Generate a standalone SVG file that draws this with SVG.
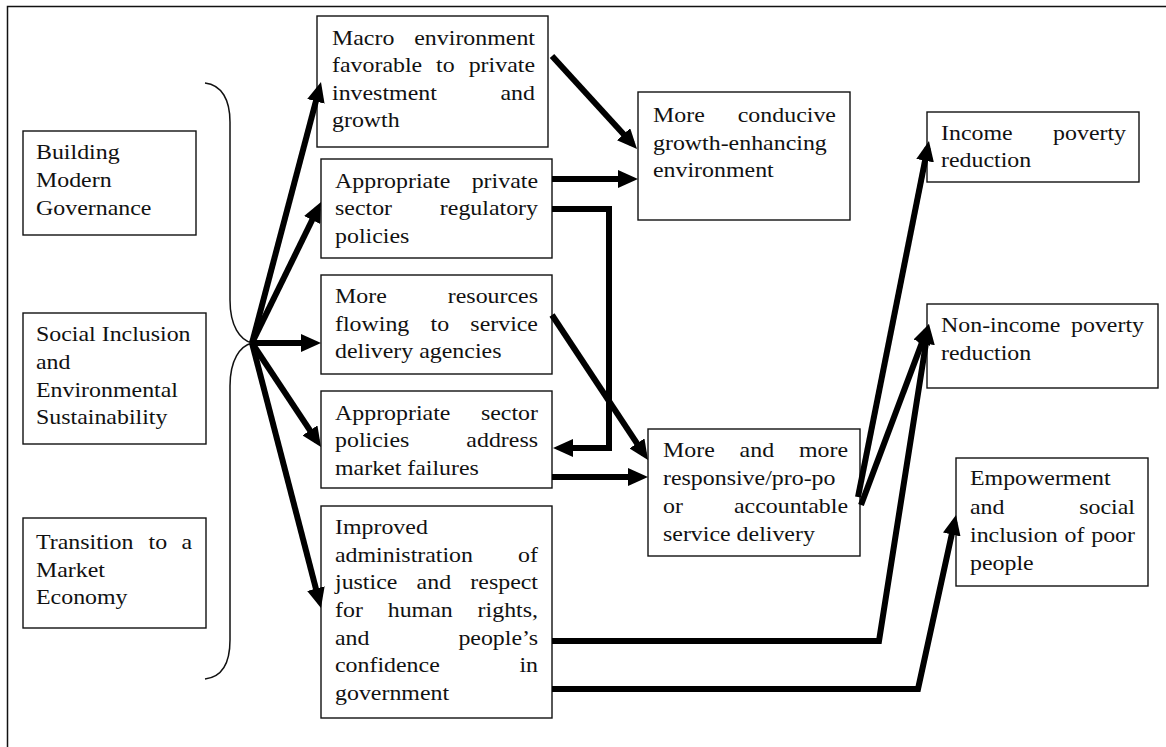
<svg xmlns="http://www.w3.org/2000/svg" width="1166" height="747" viewBox="0 0 1166 747">
  <defs>
    <style>
      .box { fill: #fff; stroke: #111; stroke-width: 1.4; }
      .t text { font-family: "Liberation Serif", "Times New Roman", serif; font-size: 20.5px; fill: #111; }
      .t text.e { text-anchor: end; }
      .frame { fill: none; stroke: #111; stroke-width: 1.5; }
      .brace { fill: none; stroke: #111; stroke-width: 1.5; }
      .conn { fill: none; stroke: #000; stroke-width: 6; stroke-linejoin: miter; marker-end: url(#arrow); }
    </style>
    <marker id="arrow" markerUnits="userSpaceOnUse" viewBox="0 0 20 18" markerWidth="20" markerHeight="18" refX="13" refY="9" orient="auto">
      <path d="M0,0 L20,9 L0,18 z" fill="#000"/>
    </marker>
  </defs>

  <rect width="1166" height="747" fill="#fff"/>

  <!-- outer frame (top and left edges) -->
  <path class="frame" d="M7.5,747 V6.5 H1166"/>

  <!-- curly brace grouping the three strategic pillars -->
  <path class="brace" d="M205,83 C222,85 230,100 230,122 L230,300 C230,326 240,340 252,343 C240,346 230,360 230,386 L230,640 C230,664 222,677 205,679"/>

  <!-- left column -->
  <g id="building-modern-governance">
    <rect class="box" x="23" y="131" width="173" height="104"/>
    <g class="t" transform="translate(36 0) scale(1.166 1)">
      <text x="0" y="159">Building</text>
      <text x="0" y="187">Modern</text>
      <text x="0" y="215">Governance</text>
    </g>
  </g>

  <g id="social-inclusion">
    <rect class="box" x="23" y="313" width="183" height="131"/>
    <g class="t" transform="translate(36 0) scale(1.166 1)">
      <text x="0" y="341">Social Inclusion</text>
      <text x="0" y="369">and</text>
      <text x="0" y="397">Environmental</text>
      <text x="0" y="424">Sustainability</text>
    </g>
  </g>

  <g id="transition-market-economy">
    <rect class="box" x="23" y="518" width="183" height="110"/>
    <g class="t" transform="translate(36 0) scale(1.166 1)">
      <text x="0" y="549">Transition</text>
      <text x="96.5" y="549">to</text>
      <text class="e" x="133.8" y="549">a</text>
      <text x="0" y="577">Market</text>
      <text x="0" y="604">Economy</text>
    </g>
  </g>

  <!-- middle column -->
  <g id="macro-environment">
    <rect class="box" x="317" y="16" width="231" height="131"/>
    <g class="t" transform="translate(332 0) scale(1.166 1)">
      <text x="0" y="45">Macro</text>
      <text class="e" x="174.1" y="45">environment</text>
      <text x="0" y="72.5">favorable</text>
      <text x="89.3" y="72.5">to</text>
      <text class="e" x="174.1" y="72.5">private</text>
      <text x="0" y="100">investment</text>
      <text class="e" x="174.1" y="100">and</text>
      <text x="0" y="127.5">growth</text>
    </g>
  </g>

  <g id="private-sector-policies">
    <rect class="box" x="321" y="159" width="231" height="99"/>
    <g class="t" transform="translate(335 0) scale(1.166 1)">
      <text x="0" y="188">Appropriate</text>
      <text class="e" x="174.1" y="188">private</text>
      <text x="0" y="215.5">sector</text>
      <text class="e" x="174.1" y="215.5">regulatory</text>
      <text x="0" y="243">policies</text>
    </g>
  </g>

  <g id="more-resources">
    <rect class="box" x="321" y="275" width="231" height="99"/>
    <g class="t" transform="translate(335 0) scale(1.166 1)">
      <text x="0" y="303">More</text>
      <text class="e" x="174.1" y="303">resources</text>
      <text x="0" y="331">flowing</text>
      <text x="81.9" y="331">to</text>
      <text class="e" x="174.1" y="331">service</text>
      <text x="0" y="358.5">delivery agencies</text>
    </g>
  </g>

  <g id="sector-policies">
    <rect class="box" x="321" y="391" width="231" height="97"/>
    <g class="t" transform="translate(335 0) scale(1.166 1)">
      <text x="0" y="420">Appropriate</text>
      <text class="e" x="174.1" y="420">sector</text>
      <text x="0" y="447">policies</text>
      <text class="e" x="174.1" y="447">address</text>
      <text x="0" y="475">market failures</text>
    </g>
  </g>

  <g id="improved-justice">
    <rect class="box" x="321" y="506" width="231" height="212"/>
    <g class="t" transform="translate(335 0) scale(1.166 1)">
      <text x="0" y="534">Improved</text>
      <text x="0" y="561.7">administration</text>
      <text class="e" x="174.1" y="561.7">of</text>
      <text x="0" y="589.4">justice</text>
      <text x="70" y="589.4">and</text>
      <text class="e" x="174.1" y="589.4">respect</text>
      <text x="0" y="617.1">for</text>
      <text x="45.2" y="617.1">human</text>
      <text class="e" x="174.1" y="617.1">rights,</text>
      <text x="0" y="644.8">and</text>
      <text class="e" x="174.1" y="644.8">people’s</text>
      <text x="0" y="672.5">confidence</text>
      <text class="e" x="174.1" y="672.5">in</text>
      <text x="0" y="700.2">government</text>
    </g>
  </g>

  <!-- intermediate outcomes -->
  <g id="growth-environment">
    <rect class="box" x="638" y="92" width="212" height="128"/>
    <g class="t" transform="translate(653 0) scale(1.166 1)">
      <text x="0" y="122">More</text>
      <text class="e" x="156.9" y="122">conducive</text>
      <text x="0" y="150">growth-enhancing</text>
      <text x="0" y="177.5">environment</text>
    </g>
  </g>

  <g id="service-delivery">
    <rect class="box" x="648" y="429" width="212" height="127"/>
    <g class="t" transform="translate(663 0) scale(1.166 1)">
      <text x="0" y="457.5">More</text>
      <text x="65.7" y="457.5">and</text>
      <text class="e" x="158.7" y="457.5">more</text>
      <text x="0" y="485.5">responsive/pro-po</text>
      <text x="0" y="513.5">or</text>
      <text class="e" x="158.7" y="513.5">accountable</text>
      <text x="0" y="541.5">service delivery</text>
    </g>
  </g>

  <!-- final outcomes -->
  <g id="income-poverty">
    <rect class="box" x="927" y="112" width="212" height="70"/>
    <g class="t" transform="translate(941 0) scale(1.166 1)">
      <text x="0" y="140">Income</text>
      <text class="e" x="158.7" y="140">poverty</text>
      <text x="0" y="167.5">reduction</text>
    </g>
  </g>

  <g id="non-income-poverty">
    <rect class="box" x="927" y="304" width="231" height="84"/>
    <g class="t" transform="translate(941 0) scale(1.166 1)">
      <text x="0" y="332">Non-income</text>
      <text class="e" x="174.1" y="332">poverty</text>
      <text x="0" y="360">reduction</text>
    </g>
  </g>

  <g id="empowerment">
    <rect class="box" x="956" y="458" width="192" height="128"/>
    <g class="t" transform="translate(970 0) scale(1.166 1)">
      <text x="0" y="485.5">Empowerment</text>
      <text x="0" y="514">and</text>
      <text class="e" x="141.5" y="514">social</text>
      <text x="0" y="542">inclusion</text>
      <text x="81" y="542">of</text>
      <text class="e" x="141.5" y="542">poor</text>
      <text x="0" y="570">people</text>
    </g>
  </g>

  <!-- connectors -->
  <g id="connectors">
    <path class="conn" d="M252,343 L319.2,88.8"/>
    <path class="conn" d="M252,343 L317.9,208.3"/>
    <path class="conn" d="M252,343 L314,343"/>
    <path class="conn" d="M252,343 L317.1,441.2"/>
    <path class="conn" d="M252,343 L319.2,601.2"/>
    <path class="conn" d="M552,56 L632.3,143.8"/>
    <path class="conn" d="M552,179 H631"/>
    <path class="conn" d="M552,209 H609 V448 H560"/>
    <path class="conn" d="M552,315 L644.1,454.2"/>
    <path class="conn" d="M552,477 H641"/>
    <path class="conn" d="M858,497 L927.6,147.9"/>
    <path class="conn" d="M861,505 L926.5,330.6"/>
    <path class="conn" d="M552,641 H879 L927.9,330.9"/>
    <path class="conn" d="M552,689 H918 L954.5,521.8"/>
  </g>
</svg>
